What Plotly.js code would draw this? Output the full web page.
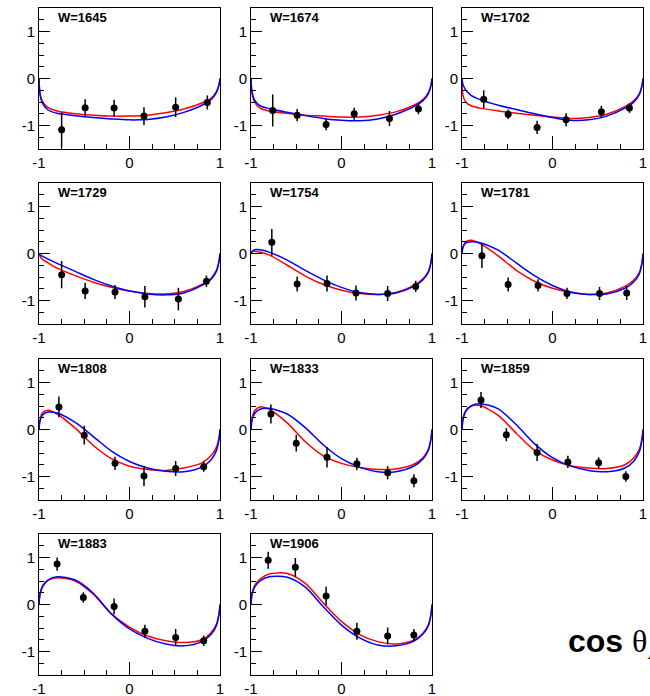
<!DOCTYPE html>
<html><head><meta charset="utf-8">
<script src="https://cdn.plot.ly/plotly-3.0.1.min.js"></script>
<style>html,body{margin:0;padding:0;background:#fff;}#chart{width:650px;height:696px;}</style>
</head><body><div id="chart"></div>
<script>
// ---- data ----
const energies = [1645, 1674, 1702, 1729, 1754, 1781, 1808, 1833, 1859, 1883, 1906];
const tickVals = [-1, 0, 1];
const tickText = ['-1', '0', '1'];

const dataX = [
  [-0.75,-0.49,-0.17,0.16,0.51,0.86],
  [-0.76,-0.49,-0.17,0.14,0.53,0.85],
  [-0.76,-0.49,-0.17,0.15,0.54,0.85],
  [-0.75,-0.49,-0.16,0.17,0.54,0.85],
  [-0.77,-0.49,-0.16,0.16,0.51,0.82],
  [-0.78,-0.49,-0.16,0.16,0.52,0.82],
  [-0.78,-0.50,-0.16,0.16,0.51,0.82],
  [-0.78,-0.50,-0.16,0.17,0.51,0.80],
  [-0.79,-0.51,-0.17,0.17,0.51,0.81],
  [-0.80,-0.51,-0.17,0.17,0.51,0.82],
  [-0.81,-0.51,-0.17,0.17,0.51,0.80]
];
const dataY = [
  [-1.09,-0.62,-0.63,-0.80,-0.61,-0.51],
  [-0.68,-0.78,-0.98,-0.75,-0.85,-0.65],
  [-0.44,-0.76,-1.04,-0.88,-0.71,-0.63],
  [-0.45,-0.80,-0.82,-0.92,-0.97,-0.59],
  [0.24,-0.65,-0.64,-0.84,-0.85,-0.70],
  [-0.05,-0.66,-0.68,-0.85,-0.85,-0.84],
  [0.48,-0.12,-0.72,-0.99,-0.83,-0.79],
  [0.33,-0.29,-0.59,-0.73,-0.92,-1.09],
  [0.63,-0.11,-0.49,-0.69,-0.71,-1.00],
  [0.86,0.15,-0.04,-0.57,-0.70,-0.77],
  [0.94,0.79,0.18,-0.57,-0.67,-0.65]
];
const dataErr = [
  [0.37,0.18,0.18,0.19,0.21,0.15],
  [0.34,0.13,0.12,0.13,0.16,0.11],
  [0.19,0.10,0.14,0.14,0.13,0.10],
  [0.29,0.17,0.15,0.23,0.24,0.12],
  [0.28,0.16,0.17,0.16,0.16,0.12],
  [0.26,0.15,0.13,0.12,0.14,0.15],
  [0.22,0.20,0.14,0.22,0.16,0.11],
  [0.20,0.18,0.22,0.13,0.14,0.14],
  [0.17,0.14,0.18,0.13,0.12,0.11],
  [0.14,0.11,0.17,0.14,0.18,0.11],
  [0.18,0.20,0.20,0.18,0.18,0.13]
];

const curveX = [-1,-0.99,-0.96,-0.9,-0.8,-0.6,-0.4,-0.2,0,0.2,0.4,0.6,0.8,0.9,0.96,0.99,1];
const redCurve = [
  [0,-0.30,-0.50,-0.62,-0.69,-0.75,-0.78,-0.80,-0.80,-0.78,-0.73,-0.65,-0.52,-0.42,-0.28,-0.12,0],
  [0,-0.30,-0.50,-0.63,-0.69,-0.74,-0.78,-0.80,-0.82,-0.82,-0.78,-0.71,-0.57,-0.45,-0.30,-0.13,0],
  [0,-0.35,-0.50,-0.58,-0.63,-0.69,-0.74,-0.78,-0.82,-0.85,-0.83,-0.76,-0.60,-0.47,-0.32,-0.14,0],
  [0,-0.05,-0.13,-0.20,-0.31,-0.47,-0.61,-0.72,-0.80,-0.85,-0.86,-0.81,-0.66,-0.53,-0.36,-0.15,0],
  [0,0.03,0.05,0.03,-0.03,-0.25,-0.48,-0.66,-0.78,-0.85,-0.87,-0.83,-0.68,-0.54,-0.38,-0.17,0],
  [0,0.14,0.25,0.28,0.21,-0.05,-0.36,-0.59,-0.74,-0.83,-0.87,-0.84,-0.70,-0.56,-0.40,-0.18,0],
  [0,0.20,0.36,0.41,0.33,0.03,-0.34,-0.62,-0.78,-0.85,-0.87,-0.82,-0.71,-0.56,-0.38,-0.16,0],
  [0,0.22,0.40,0.48,0.43,0.14,-0.26,-0.56,-0.72,-0.81,-0.85,-0.84,-0.74,-0.60,-0.42,-0.18,0],
  [0,0.22,0.40,0.50,0.51,0.30,-0.08,-0.44,-0.65,-0.77,-0.82,-0.83,-0.75,-0.60,-0.42,-0.18,0],
  [0,0.22,0.40,0.52,0.57,0.50,0.22,-0.20,-0.48,-0.67,-0.77,-0.81,-0.75,-0.60,-0.42,-0.18,0],
  [0,0.22,0.40,0.54,0.65,0.66,0.45,0.03,-0.36,-0.64,-0.79,-0.84,-0.76,-0.61,-0.43,-0.19,0]
];
const blueCurve = [
  [0,-0.32,-0.53,-0.67,-0.74,-0.79,-0.83,-0.86,-0.88,-0.87,-0.82,-0.72,-0.57,-0.45,-0.30,-0.13,0],
  [0,-0.27,-0.46,-0.58,-0.64,-0.72,-0.79,-0.85,-0.89,-0.90,-0.86,-0.76,-0.60,-0.47,-0.32,-0.14,0],
  [0,-0.12,-0.24,-0.36,-0.45,-0.57,-0.66,-0.75,-0.83,-0.89,-0.88,-0.80,-0.63,-0.50,-0.34,-0.15,0],
  [0,-0.02,-0.06,-0.12,-0.21,-0.38,-0.55,-0.69,-0.80,-0.86,-0.88,-0.84,-0.68,-0.55,-0.38,-0.16,0],
  [0,0.04,0.08,0.08,0.03,-0.14,-0.36,-0.56,-0.72,-0.83,-0.87,-0.84,-0.70,-0.56,-0.40,-0.18,0],
  [0,0.13,0.22,0.25,0.23,0.07,-0.20,-0.47,-0.68,-0.82,-0.87,-0.86,-0.74,-0.60,-0.43,-0.19,0],
  [0,0.17,0.31,0.37,0.35,0.15,-0.15,-0.46,-0.68,-0.82,-0.89,-0.90,-0.80,-0.65,-0.45,-0.20,0],
  [0,0.18,0.34,0.43,0.45,0.33,0.04,-0.33,-0.62,-0.80,-0.90,-0.90,-0.78,-0.63,-0.44,-0.19,0],
  [0,0.20,0.38,0.50,0.55,0.44,0.10,-0.30,-0.60,-0.78,-0.87,-0.90,-0.82,-0.67,-0.47,-0.21,0],
  [0,0.20,0.38,0.52,0.59,0.52,0.24,-0.20,-0.52,-0.72,-0.84,-0.88,-0.79,-0.64,-0.45,-0.20,0],
  [0,0.20,0.37,0.50,0.59,0.58,0.37,-0.05,-0.44,-0.71,-0.86,-0.88,-0.78,-0.63,-0.45,-0.20,0]
];

// ---- layout geometry (pixels) ----
const W = 650, H = 696;
const colLeft = [39, 251, 462];
const rowTop = [8, 183, 359, 534];
const pw = 181, ph = 141;
const fontFam = 'Liberation Sans, Arial, Helvetica, sans-serif';

const traces = [];
const layout = {
  width: W, height: H,
  margin: {l: 0, r: 0, t: 0, b: 0},
  showlegend: false,
  paper_bgcolor: 'white', plot_bgcolor: 'white',
  annotations: []
};

energies.forEach((w, i) => {
  const n = i + 1;
  const xa = n === 1 ? 'x' : 'x' + n;
  const ya = n === 1 ? 'y' : 'y' + n;
  const col = i % 3, row = Math.floor(i / 3);
  const l = colLeft[col], t = rowTop[row];
  const xKey = n === 1 ? 'xaxis' : 'xaxis' + n;
  const yKey = n === 1 ? 'yaxis' : 'yaxis' + n;
  layout[xKey] = {
    domain: [l / W, (l + pw) / W], anchor: ya, range: [-1, 1],
    showgrid: false, zeroline: false, showline: true, mirror: true,
    linecolor: 'black', linewidth: 1,
    ticks: 'inside', ticklen: 13, tickwidth: 1, tickcolor: 'black',
    tickmode: 'array', tickvals: tickVals, ticktext: tickText,
    minor: {tickmode: 'array', tickvals: [-0.75,-0.5,-0.25,0.25,0.5,0.75], ticks: 'inside', ticklen: 5, tickwidth: 1, tickcolor: 'black'},
    tickfont: {family: fontFam, size: 15, color: 'black'},
    fixedrange: true
  };
  layout[yKey] = {
    domain: [1 - (t + ph) / H, 1 - t / H], anchor: xa, range: [-1.5, 1.5],
    showgrid: false, zeroline: false, showline: true, mirror: true,
    linecolor: 'black', linewidth: 1,
    ticks: 'inside', ticklen: 11, tickwidth: 1, tickcolor: 'black',
    tickmode: 'array', tickvals: tickVals, ticktext: tickText,
    minor: {tickmode: 'array', tickvals: [-1.25,-0.75,-0.5,-0.25,0.25,0.5,0.75,1.25], ticks: 'inside', ticklen: 5, tickwidth: 1, tickcolor: 'black'},
    tickfont: {family: fontFam, size: 15, color: 'black'},
    fixedrange: true
  };
  traces.push({
    type: 'scatter', mode: 'lines', x: curveX, y: redCurve[i],
    xaxis: xa, yaxis: ya, line: {color: '#ff0000', width: 1.5, shape: 'spline', smoothing: 0.8},
    hoverinfo: 'skip'
  });
  traces.push({
    type: 'scatter', mode: 'lines', x: curveX, y: blueCurve[i],
    xaxis: xa, yaxis: ya, line: {color: '#0000ff', width: 1.5, shape: 'spline', smoothing: 0.8},
    hoverinfo: 'skip'
  });
  traces.push({
    type: 'scatter', mode: 'markers', x: dataX[i], y: dataY[i],
    xaxis: xa, yaxis: ya,
    marker: {color: 'black', size: 7},
    error_y: {type: 'data', array: dataErr[i], visible: true, color: 'black', thickness: 1.5, width: 0}
  });
  layout.annotations.push({
    xref: 'paper', yref: 'paper',
    x: (l + 17) / W, y: 1 - (t + 9.5) / H,
    xanchor: 'left', yanchor: 'middle',
    text: '<b>W=' + w + '</b>', showarrow: false,
    font: {family: fontFam, size: 13, color: 'black'}
  });
});

layout.annotations.push({
  xref: 'paper', yref: 'paper',
  x: 566 / W, y: 1 - 643 / H,
  xanchor: 'left', yanchor: 'middle',
  text: '<b>cos</b> <span style="font-family:Liberation Serif, Times New Roman, serif">θ<sub>Λ</sub></span>',
  showarrow: false,
  font: {family: fontFam, size: 32, color: 'black'}
});

Plotly.newPlot('chart', traces, layout, {staticPlot: true});
</script>
</body></html>
